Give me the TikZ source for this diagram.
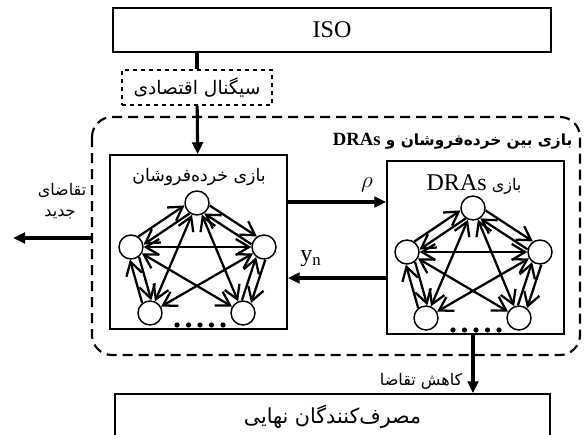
\documentclass[tikz,border=0pt]{standalone}
\usepackage{fontspec}
\setmainfont{Liberation Serif}
\newfontfamily\fafont[Script=Arabic]{DejaVu Sans}
\TeXXeTstate=1
\usetikzlibrary{calc, positioning}
\usetikzlibrary{arrows.meta}

\newcommand{\fa}[1]{{\fafont\beginR #1\endR}}

\newcommand{\gamenet}[3]{%
\begin{scope}[shift={(#2,#3)}]
\node[player] (#1t) at (0,0) {};
\node[player] (#1l) at (-66,44) {};
\node[player] (#1r) at (67,44) {};
\node[player] (#1a) at (-47,110) {};
\node[player] (#1b) at (46,110) {};
\foreach \k in {0,...,4}
  \fill (-20+\k*11.5,122) circle (2.6);
\end{scope}
\foreach \u/\v/\ang in {t/l/213.7, t/r/-33.7, l/a/-73.1, r/b/-106.9}{
  \pgfmathsetmacro{\angA}{\ang+22}
  \pgfmathsetmacro{\angB}{\ang+158}
  \pgfmathsetmacro{\angC}{\ang-22}
  \pgfmathsetmacro{\angD}{\ang+202}
  \draw[netline,-{barb}] (#1\u.\angA) -- (#1\v.\angB);
  \draw[netline,{barb}-] (#1\u.\angC) -- (#1\v.\angD);
}
\foreach \u/\v in {t/a, t/b, l/r, l/b, r/a}
  \draw[netline,{barb}-{barb}] (#1\u) -- (#1\v);
}

\begin{document}
\begin{tikzpicture}[x=0.75pt,y=-0.75pt,
  box/.style={draw,line width=1.1pt,inner sep=0pt},
  player/.style={draw,circle,line width=1.1pt,minimum size=18pt,inner sep=0pt},
  netline/.style={line width=1.7pt},
  barb/.tip={Straight Barb[length=10pt,width=12pt]},
  bigarrow/.style={line width=2.3pt,-{Triangle[length=9pt,width=8pt]}},
  fatext/.style={font=\fontsize{12}{14}\selectfont},
  lattext/.style={font=\fontsize{18}{20}\selectfont}]
\useasboundingbox (0,0) rectangle (585,435);

\node[box,minimum width=328.5pt,minimum height=33pt,lattext] (iso) at (332,30) {ISO};
\node[box,dashed,line width=0.8pt,minimum width=112.5pt,minimum height=26.25pt,font=\fontsize{14}{16}\selectfont] (signal) at (197,87.5) {\fa{سیگنال اقتصادی}};
\node[box,minimum width=132.75pt,minimum height=130.5pt] (retail) at (198.5,242) {};
\node[box,minimum width=132.75pt,minimum height=129.75pt] (dra) at (475.5,247.5) {};
\node[box,minimum width=326.25pt,minimum height=34.5pt,font=\fontsize{15.5}{17}\selectfont] (consumer) at (332.5,417) {\fa{مصرف‌کنندگان نهایی}};

\draw[line width=1.6pt,dash pattern=on 7.5pt off 4.5pt,rounded corners=15pt] (92,117) rectangle (580,355);

\node[anchor=east,font=\fontsize{11.5}{14}\selectfont\bfseries] (title) at (577,141) {\fa{بازی بین خرده‌فروشان و \beginL{\rmfamily\bfseries\fontsize{14}{16}\selectfont DRAs}\endL}};
\node[font=\fontsize{13}{15}\selectfont] (retaillabel) at (199,177) {\fa{بازی خرده‌فروشان}};
\node[fatext] (dralabel) at (474,185) {\fa{بازی \beginL{\rmfamily\fontsize{18}{20}\selectfont DRAs}\endL}};

\gamenet{p}{197}{203}
\gamenet{q}{473}{208}

\coordinate (rholine) at (0,202);
\coordinate (ynline) at (0,278);
\coordinate (newdemand) at (13,238);
\coordinate (reduceline) at (473,0);

\draw[line width=2.3pt] (iso.south -| signal) -- (signal);
\draw[bigarrow] (signal) -- (retail);
\draw[bigarrow] (retail.east |- rholine) -- (dra.west |- rholine);
\draw[bigarrow] (dra.west |- ynline) -- (retail.east |- ynline);
\draw[bigarrow] (92,238) -- (newdemand);
\draw[bigarrow] (dra.south -| reduceline) -- (consumer.north -| reduceline);

\node[font=\fontsize{18}{20}\selectfont] (rho) at (367,185) {$\rho$};
\node[lattext] (yn) at (311,259) {y\textsubscript{n}};
\node[fatext] (newd1) at (62,190) {\fa{تقاضای}};
\node[fatext] (newd2) at (60,214) {\fa{جدید}};
\node[fatext,anchor=east] (reduce) at (467,381) {\fa{کاهش تقاضا}};
\end{tikzpicture}
\end{document}
